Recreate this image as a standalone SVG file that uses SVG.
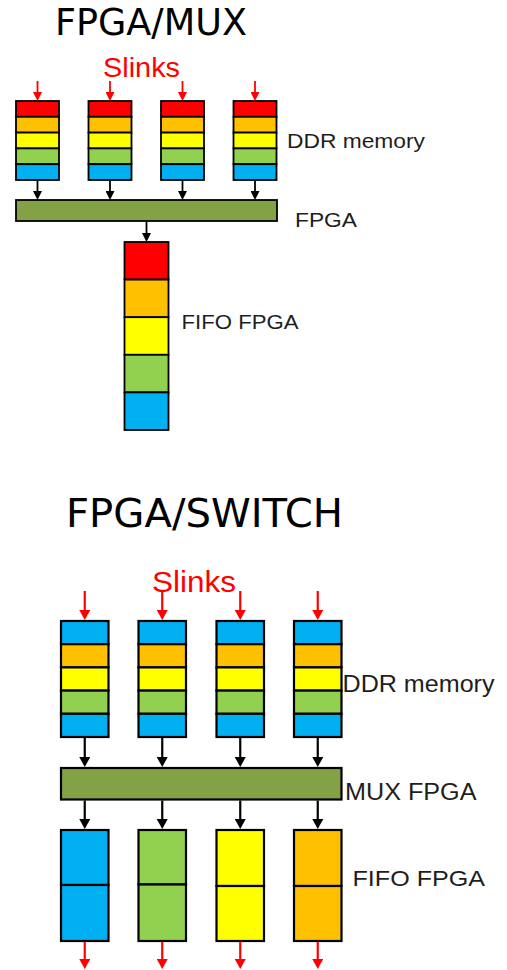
<svg xmlns="http://www.w3.org/2000/svg" width="507" height="970" viewBox="0 0 507 970">
<style>
.t{font-family:"DejaVu Sans",sans-serif;fill:#000}
.lbl{font-family:"Liberation Sans",Arial,sans-serif;fill:#1e1e1e}
.sl{font-family:"Liberation Sans",Arial,sans-serif;fill:#ff0000}
.s1 rect{stroke:#000;stroke-width:1.8}
.s2 rect{stroke:#000;stroke-width:2.2}
.r{fill:#ff0000}.o{fill:#ffc000}.y{fill:#ffff00}.g{fill:#92d050}.b{fill:#00b0f0}.bar{fill:#83a145}
.ar1{stroke:#ff0000;stroke-width:1.8;fill:none}
.ak1{stroke:#000;stroke-width:1.8;fill:none}
.ar2{stroke:#ff0000;stroke-width:2.2;fill:none}
.ak2{stroke:#000;stroke-width:2.2;fill:none}
</style>
<defs>
<marker id="mr1" viewBox="0 0 9 9" refX="4" refY="4.5" markerWidth="9" markerHeight="9" markerUnits="userSpaceOnUse" orient="auto"><path d="M0,0 L9,4.5 L0,9 z" fill="#ff0000"/></marker>
<marker id="mk1" viewBox="0 0 9 9" refX="4" refY="4.5" markerWidth="9" markerHeight="9" markerUnits="userSpaceOnUse" orient="auto"><path d="M0,0 L9,4.5 L0,9 z" fill="#000"/></marker>
<marker id="mr2" viewBox="0 0 10 11" refX="4" refY="5.5" markerWidth="10" markerHeight="11" markerUnits="userSpaceOnUse" orient="auto"><path d="M0,0 L10,5.5 L0,11 z" fill="#ff0000"/></marker>
<marker id="mk2" viewBox="0 0 10 11" refX="4" refY="5.5" markerWidth="10" markerHeight="11" markerUnits="userSpaceOnUse" orient="auto"><path d="M0,0 L10,5.5 L0,11 z" fill="#000"/></marker>
</defs>

<!-- Top section: FPGA/MUX -->
<text class="t" x="55" y="35" font-size="37" textLength="192" lengthAdjust="spacingAndGlyphs">FPGA/MUX</text>
<text class="sl" x="103" y="77" font-size="28" textLength="77" lengthAdjust="spacingAndGlyphs">Slinks</text>

<g id="mux-ddr1" class="s1">
<rect class="r" x="16" y="101" width="43" height="15.8"/><rect class="o" x="16" y="116.8" width="43" height="15.8"/><rect class="y" x="16" y="132.6" width="43" height="15.8"/><rect class="g" x="16" y="148.4" width="43" height="15.8"/><rect class="b" x="16" y="164.2" width="43" height="15.8"/>
</g>
<g id="mux-ddr2" class="s1">
<rect class="r" x="88.5" y="101" width="43" height="15.8"/><rect class="o" x="88.5" y="116.8" width="43" height="15.8"/><rect class="y" x="88.5" y="132.6" width="43" height="15.8"/><rect class="g" x="88.5" y="148.4" width="43" height="15.8"/><rect class="b" x="88.5" y="164.2" width="43" height="15.8"/>
</g>
<g id="mux-ddr3" class="s1">
<rect class="r" x="161" y="101" width="43" height="15.8"/><rect class="o" x="161" y="116.8" width="43" height="15.8"/><rect class="y" x="161" y="132.6" width="43" height="15.8"/><rect class="g" x="161" y="148.4" width="43" height="15.8"/><rect class="b" x="161" y="164.2" width="43" height="15.8"/>
</g>
<g id="mux-ddr4" class="s1">
<rect class="r" x="233.5" y="101" width="43" height="15.8"/><rect class="o" x="233.5" y="116.8" width="43" height="15.8"/><rect class="y" x="233.5" y="132.6" width="43" height="15.8"/><rect class="g" x="233.5" y="148.4" width="43" height="15.8"/><rect class="b" x="233.5" y="164.2" width="43" height="15.8"/>
</g>
<text class="lbl" x="287" y="148" font-size="21" textLength="138" lengthAdjust="spacingAndGlyphs">DDR memory</text>

<g id="mux-fpga" class="s1">
<rect class="bar" x="16" y="200" width="261" height="21"/>
</g>
<text class="lbl" x="295" y="226.5" font-size="21" textLength="62" lengthAdjust="spacingAndGlyphs">FPGA</text>

<g id="mux-fifo" class="s1">
<rect class="r" x="124.5" y="242" width="44" height="37.6"/><rect class="o" x="124.5" y="279.6" width="44" height="37.6"/><rect class="y" x="124.5" y="317.2" width="44" height="37.6"/><rect class="g" x="124.5" y="354.8" width="44" height="37.6"/><rect class="b" x="124.5" y="392.4" width="44" height="37.6"/>
</g>
<text class="lbl" x="181.5" y="328.5" font-size="20" textLength="117" lengthAdjust="spacingAndGlyphs">FIFO FPGA</text>

<!-- Bottom section: FPGA/SWITCH -->
<text class="t" x="66" y="526.7" font-size="39.5" textLength="277" lengthAdjust="spacingAndGlyphs">FPGA/SWITCH</text>
<text class="sl" x="152" y="591.7" font-size="30" textLength="84" lengthAdjust="spacingAndGlyphs">Slinks</text>

<g id="sw-ddr1" class="s2">
<rect class="b" x="61" y="621" width="47.5" height="23.2"/><rect class="o" x="61" y="644.2" width="47.5" height="23.2"/><rect class="y" x="61" y="667.4" width="47.5" height="23.2"/><rect class="g" x="61" y="690.6" width="47.5" height="23.2"/><rect class="b" x="61" y="713.8" width="47.5" height="23.2"/>
</g>
<g id="sw-ddr2" class="s2">
<rect class="b" x="138.5" y="621" width="47.5" height="23.2"/><rect class="o" x="138.5" y="644.2" width="47.5" height="23.2"/><rect class="y" x="138.5" y="667.4" width="47.5" height="23.2"/><rect class="g" x="138.5" y="690.6" width="47.5" height="23.2"/><rect class="b" x="138.5" y="713.8" width="47.5" height="23.2"/>
</g>
<g id="sw-ddr3" class="s2">
<rect class="b" x="216.5" y="621" width="47.5" height="23.2"/><rect class="o" x="216.5" y="644.2" width="47.5" height="23.2"/><rect class="y" x="216.5" y="667.4" width="47.5" height="23.2"/><rect class="g" x="216.5" y="690.6" width="47.5" height="23.2"/><rect class="b" x="216.5" y="713.8" width="47.5" height="23.2"/>
</g>
<g id="sw-ddr4" class="s2">
<rect class="b" x="294" y="621" width="47.5" height="23.2"/><rect class="o" x="294" y="644.2" width="47.5" height="23.2"/><rect class="y" x="294" y="667.4" width="47.5" height="23.2"/><rect class="g" x="294" y="690.6" width="47.5" height="23.2"/><rect class="b" x="294" y="713.8" width="47.5" height="23.2"/>
</g>
<text class="lbl" x="342.5" y="691.7" font-size="23" textLength="152" lengthAdjust="spacingAndGlyphs">DDR memory</text>

<g id="sw-mux" class="s2">
<rect class="bar" x="61" y="768" width="280.5" height="31.5"/>
</g>
<text class="lbl" x="345" y="800" font-size="23" textLength="131.5" lengthAdjust="spacingAndGlyphs">MUX FPGA</text>

<g id="sw-fifo1" class="s2">
<rect class="b" x="61" y="830" width="47.5" height="55"/><rect class="b" x="61" y="885" width="47.5" height="56"/>
</g>
<g id="sw-fifo2" class="s2">
<rect class="g" x="138.5" y="830" width="47.5" height="54.5"/><rect class="g" x="138.5" y="884.5" width="47.5" height="56.5"/>
</g>
<g id="sw-fifo3" class="s2">
<rect class="y" x="216.5" y="830" width="47.5" height="56"/><rect class="y" x="216.5" y="886" width="47.5" height="55"/>
</g>
<g id="sw-fifo4" class="s2">
<rect class="o" x="294" y="830" width="47.5" height="56"/><rect class="o" x="294" y="886" width="47.5" height="55"/>
</g>
<text class="lbl" x="352.5" y="886" font-size="22.5" textLength="132.5" lengthAdjust="spacingAndGlyphs">FIFO FPGA</text>

<g id="connectors">
<!-- top slinks -->
<line class="ar1" x1="37.5" y1="81" x2="37.5" y2="96" marker-end="url(#mr1)"/>
<line class="ar1" x1="110" y1="81" x2="110" y2="96" marker-end="url(#mr1)"/>
<line class="ar1" x1="182.5" y1="81" x2="182.5" y2="96" marker-end="url(#mr1)"/>
<line class="ar1" x1="255" y1="81" x2="255" y2="96" marker-end="url(#mr1)"/>
<!-- top ddr to fpga -->
<line class="ak1" x1="37.5" y1="181" x2="37.5" y2="195" marker-end="url(#mk1)"/>
<line class="ak1" x1="110" y1="181" x2="110" y2="195" marker-end="url(#mk1)"/>
<line class="ak1" x1="182.5" y1="181" x2="182.5" y2="195" marker-end="url(#mk1)"/>
<line class="ak1" x1="255" y1="181" x2="255" y2="195" marker-end="url(#mk1)"/>
<!-- fpga to fifo -->
<line class="ak1" x1="146.5" y1="222" x2="146.5" y2="237" marker-end="url(#mk1)"/>
<!-- bottom slinks -->
<line class="ar2" x1="84.75" y1="591" x2="84.75" y2="614" marker-end="url(#mr2)"/>
<line class="ar2" x1="162.25" y1="591" x2="162.25" y2="614" marker-end="url(#mr2)"/>
<line class="ar2" x1="240.25" y1="591" x2="240.25" y2="614" marker-end="url(#mr2)"/>
<line class="ar2" x1="317.75" y1="591" x2="317.75" y2="614" marker-end="url(#mr2)"/>
<!-- ddr to mux -->
<line class="ak2" x1="84.75" y1="738" x2="84.75" y2="761" marker-end="url(#mk2)"/>
<line class="ak2" x1="162.25" y1="738" x2="162.25" y2="761" marker-end="url(#mk2)"/>
<line class="ak2" x1="240.25" y1="738" x2="240.25" y2="761" marker-end="url(#mk2)"/>
<line class="ak2" x1="317.75" y1="738" x2="317.75" y2="761" marker-end="url(#mk2)"/>
<!-- mux to fifo -->
<line class="ak2" x1="84.75" y1="800.5" x2="84.75" y2="823" marker-end="url(#mk2)"/>
<line class="ak2" x1="162.25" y1="800.5" x2="162.25" y2="823" marker-end="url(#mk2)"/>
<line class="ak2" x1="240.25" y1="800.5" x2="240.25" y2="823" marker-end="url(#mk2)"/>
<line class="ak2" x1="317.75" y1="800.5" x2="317.75" y2="823" marker-end="url(#mk2)"/>
<!-- fifo out -->
<line class="ar2" x1="84.75" y1="942" x2="84.75" y2="963" marker-end="url(#mr2)"/>
<line class="ar2" x1="162.25" y1="942" x2="162.25" y2="963" marker-end="url(#mr2)"/>
<line class="ar2" x1="240.25" y1="942" x2="240.25" y2="963" marker-end="url(#mr2)"/>
<line class="ar2" x1="317.75" y1="942" x2="317.75" y2="963" marker-end="url(#mr2)"/>
</g>
</svg>
